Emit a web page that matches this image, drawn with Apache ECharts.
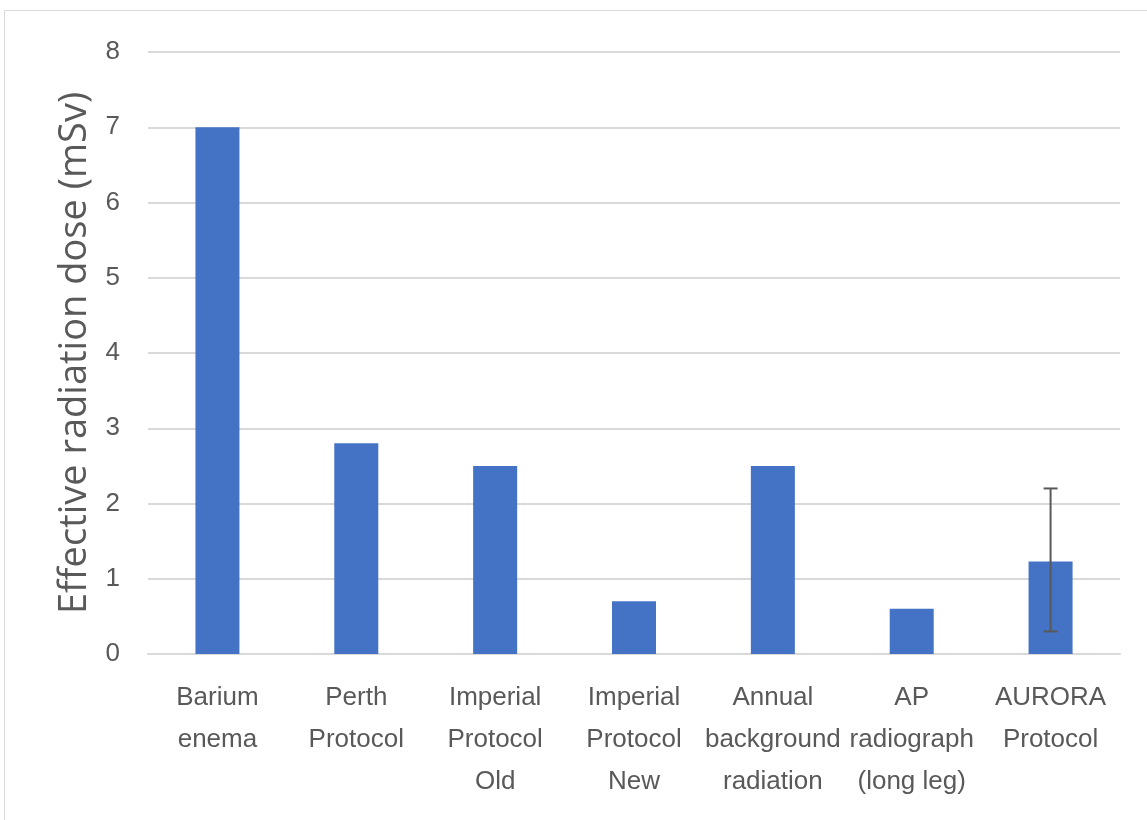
<!DOCTYPE html>
<html>
<head>
<meta charset="utf-8">
<script src="https://cdn.jsdelivr.net/npm/echarts@6/dist/echarts.min.js"></script>
<style>
html,body{margin:0;padding:0;background:#fff;}
#chart{width:1147px;height:820px;}
</style>
</head>
<body>
<div id="chart"></div>
<script>
const categories = [
  "Barium\nenema",
  "Perth\nProtocol",
  "Imperial\nProtocol\nOld",
  "Imperial\nProtocol\nNew",
  "Annual\nbackground\nradiation",
  "AP\nradiograph\n(long leg)",
  "AURORA\nProtocol"
];
const doseValues = [7.0, 2.8, 2.5, 0.7, 2.5, 0.6, 1.23];
// error bars: [categoryIndex, low, high]
const errorBars = [[6, 0.3, 2.2]];
const yTicks = { min: 0, max: 8, interval: 1 };
const yTitle = "Effective radiation dose (mSv)";

const chart = echarts.init(document.getElementById('chart'), null, {renderer: 'canvas'});
const labelFont = '"Liberation Sans Narrow", "Liberation Sans", sans-serif';
chart.setOption({
  backgroundColor: '#ffffff',
  animation: false,
  graphic: [{
    type: 'rect', silent: true,
    shape: { x: 4.5, y: 10.5, width: 1160, height: 830 },
    style: { fill: 'none', stroke: '#d9d9d9', lineWidth: 1 }
  }],
  grid: { left: 148, right: 27, top: 52, bottom: 166 },
  xAxis: {
    type: 'category',
    data: categories,
    axisLine: { show: true, lineStyle: { color: '#d9d9d9', width: 2 } },
    axisTick: { show: false },
    axisLabel: {
      interval: 0, color: '#595959', fontSize: 26, lineHeight: 42,
      fontFamily: labelFont, margin: 23
    }
  },
  yAxis: {
    type: 'value',
    min: yTicks.min, max: yTicks.max, interval: yTicks.interval,
    name: yTitle, nameLocation: 'middle', nameGap: 50,
    nameTextStyle: { color: '#595959', fontSize: 38, fontFamily: '"Open Sans", sans-serif' },
    axisLine: { show: false },
    axisTick: { show: false },
    axisLabel: { color: '#595959', fontSize: 26, fontFamily: labelFont, margin: 28 },
    splitLine: { lineStyle: { color: '#d9d9d9', width: 2 } }
  },
  series: [{
    type: 'bar',
    data: doseValues,
    barWidth: 44,
    itemStyle: { color: '#4472C4' },
    z: 2
  }, {
    type: 'custom',
    data: errorBars,
    z: 5,
    renderItem: function (params, api) {
      const x = api.value(0);
      const lo = api.coord([x, api.value(1)]);
      const hi = api.coord([x, api.value(2)]);
      const half = 7;
      const st = { stroke: '#595959', lineWidth: 2 };
      return {
        type: 'group',
        children: [
          { type: 'line', shape: { x1: lo[0], y1: lo[1], x2: hi[0], y2: hi[1] }, style: st },
          { type: 'line', shape: { x1: hi[0]-half, y1: hi[1], x2: hi[0]+half, y2: hi[1] }, style: st },
          { type: 'line', shape: { x1: lo[0]-half, y1: lo[1], x2: lo[0]+half, y2: lo[1] }, style: st }
        ]
      };
    }
  }]
});
</script>
</body>
</html>
